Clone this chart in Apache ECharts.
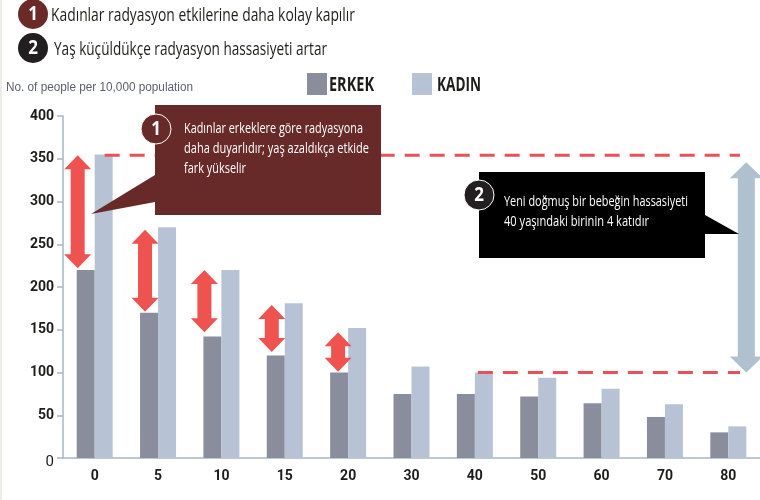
<!DOCTYPE html>
<html>
<head>
<meta charset="utf-8">
<style>
  html, body { margin: 0; padding: 0; background: #fff; }
  #chart { width: 760px; height: 500px; }
</style>
<script src="https://cdn.jsdelivr.net/npm/echarts@6/dist/echarts.min.js"></script>
</head>
<body>
<div id="chart"></div>
<script>
const ages = ['0', '5', '10', '15', '20', '30', '40', '50', '60', '70', '80'];
const erkek = [220, 170, 142, 120, 100, 75, 75, 72, 64, 48, 30];
const kadin = [355, 270, 220, 181, 152, 107, 100, 94, 81, 63, 37];
const yTicks = [0, 50, 100, 150, 200, 250, 300, 350, 400];

// red arrows: gap between the two sexes
const gapAges = ['0', '5', '10', '15', '20'];
const gapTop = [354, 267, 220, 179, 147];
const gapBottom = [222, 171, 147, 124, 101];
// grey arrow and dashed lines: newborn vs age 40
const rangeAge = '80';
const rangeTop = 346;
const rangeBottom = 100;
const dashAges = ['0', '40'];
const dashValues = [354, 100];

const headlines = ['Kadınlar radyasyon etkilerine daha kolay kapılır', 'Yaş küçüldükçe radyasyon hassasiyeti artar'];
const note1 = ['Kadınlar erkeklere göre radyasyona', 'daha duyarlıdır; yaş azaldıkça etkide', 'fark yükselir'];
const note2 = ['Yeni doğmuş bir bebeğin hassasiyeti', '40 yaşındaki birinin 4 katıdır'];

const SANS = '"Open Sans", "Noto Sans", sans-serif';
const MAROON = '#682a28';
const BLACK = '#000000';
const RED = '#ef5350';
const DASH = '#e8505a';
const STEEL = '#afc0ce';
const AXIS = '#a6b6c4';
const INK = '#1d1d1b';

// horizontal nudge of each red arrow from its category centre
const gapShift = [-17, -13, -17, -13, -10];

function arrowPoints(x, y0, y1, shaft, head, headLen) {
    return [
        [x, y0], [x + head / 2, y0 + headLen], [x + shaft / 2, y0 + headLen],
        [x + shaft / 2, y1 - headLen], [x + head / 2, y1 - headLen], [x, y1],
        [x - head / 2, y1 - headLen], [x - shaft / 2, y1 - headLen], [x - shaft / 2, y0 + headLen],
        [x - head / 2, y0 + headLen]
    ];
}

function renderArrow(color, shaft, head, headLen) {
    return function (params, api) {
        const top = api.coord([api.value(0), api.value(1)]);
        const bottom = api.coord([api.value(0), api.value(2)]);
        return {
            type: 'polygon',
            shape: { points: arrowPoints(top[0] + api.value(3), top[1], bottom[1], shaft, head, headLen) },
            style: { fill: color }
        };
    };
}

function renderDash(params, api) {
    const p = api.coord([api.value(0), api.value(1)]);
    return {
        type: 'line',
        shape: { x1: p[0] + api.value(2), y1: p[1], x2: 740, y2: p[1] },
        style: { stroke: DASH, lineWidth: 3, lineDash: [15, 10], fill: null }
    };
}

function badge(cx, cy, label, fill, ring) {
    return [
        { type: 'circle', shape: { cx: cx, cy: cy, r: 15 }, z: 20,
          style: { fill: fill, stroke: ring ? '#fff' : null, lineWidth: 1 } },
        { type: 'text', x: cx, y: cy, z: 21, scaleX: 0.85,
          style: { text: label, fill: '#fff', font: 'bold 20px ' + SANS, align: 'center', verticalAlign: 'middle' } }
    ];
}

// the original face is condensed and none is installed, so squeeze text to its measured width
const measure = document.createElement('canvas').getContext('2d');
function fitted(text, x, y, width, font, color) {
    measure.font = font;
    return { type: 'text', x: x, y: y, z: 21, scaleX: width / measure.measureText(text).width,
             style: { text: text, fill: color, font: font, verticalAlign: 'middle' } };
}

const graphics = [].concat(
    [{ type: 'rect', shape: { x: 0, y: 0, width: 2, height: 500 }, style: { fill: '#efebe7' } }],
    badge(33, 14, '1', '#6b2a28', false),
    badge(33, 48, '2', '#231f20', false),
    fitted(headlines[0], 51, 16, 304, '19px ' + SANS, INK),
    fitted(headlines[1], 54, 50, 273, '19px ' + SANS, INK),
    [{ type: 'text', x: 6, y: 88, scaleX: 0.98, style: { text: 'No. of people per 10,000 population', fill: '#5b6070', font: '12px "Liberation Sans", sans-serif', verticalAlign: 'middle' } }],
    fitted('ERKEK', 329, 85, 45, 'bold 20px ' + SANS, INK),
    fitted('KADIN', 437, 85, 44, 'bold 20px ' + SANS, INK),
    // callout 1
    [{ type: 'polygon', z: 19, shape: { points: [[155, 175], [155, 202], [91, 214]] }, style: { fill: MAROON } },
     { type: 'rect', z: 19, shape: { x: 155, y: 105, width: 226, height: 110 }, style: { fill: MAROON } }],
    badge(156, 129, '1', MAROON, true),
    fitted(note1[0], 184, 129, 179, '14px ' + SANS, '#fff'),
    fitted(note1[1], 184, 149, 185, '14px ' + SANS, '#fff'),
    fitted(note1[2], 184, 169, 62, '14px ' + SANS, '#fff'),
    // callout 2
    [{ type: 'polygon', z: 19, shape: { points: [[705, 215], [739, 234], [705, 234]] }, style: { fill: BLACK } },
     { type: 'rect', z: 19, shape: { x: 479, y: 172, width: 226, height: 86 }, style: { fill: BLACK } }],
    badge(479, 195, '2', '#231f20', true),
    fitted(note2[0], 504, 202, 184, '14px ' + SANS, '#fff'),
    fitted(note2[1], 504, 222, 145, '14px ' + SANS, '#fff')
);

const legendStyle = {
    top: 73, padding: 0, icon: 'rect', itemWidth: 20, itemHeight: 22, selectedMode: false,
    formatter: function () { return ''; }
};

const chart = echarts.init(document.getElementById('chart'), null, { renderer: 'canvas' });
chart.setOption({
    animation: false,
    backgroundColor: '#fff',
    grid: { left: 63, right: 0, top: 116, bottom: 42, containLabel: false },
    legend: [
        Object.assign({ left: 307, data: ['ERKEK'] }, legendStyle),
        Object.assign({ left: 412, data: ['KADIN'] }, legendStyle)
    ],
    xAxis: {
        type: 'category',
        data: ages,
        axisLine: { lineStyle: { color: AXIS, width: 1.5 } },
        axisTick: { alignWithLabel: false, length: 6, lineStyle: { color: AXIS, width: 1.5 } },
        axisLabel: { color: INK, fontFamily: 'Roboto', fontWeight: 'bold', fontSize: 14, margin: 11 }
    },
    yAxis: {
        type: 'value',
        min: 0,
        max: yTicks[yTicks.length - 1],
        interval: yTicks[1] - yTicks[0],
        splitLine: { show: false },
        axisLine: { show: true, lineStyle: { color: AXIS, width: 1.5 } },
        axisTick: { show: true, length: 6, lineStyle: { color: AXIS, width: 1.5 } },
        axisLabel: {
            color: INK, fontFamily: 'Roboto', fontWeight: 'bold', fontSize: 14, margin: 9,
            formatter: function (v) { return v === 0 ? '{zero|0}' : String(v); },
            rich: { zero: { fontFamily: 'Roboto', fontSize: 15, color: INK, fontWeight: 'normal', padding: [8, 0, 0, 0] } }
        }
    },
    series: [
        { name: 'ERKEK', type: 'bar', data: erkek, barWidth: 18, barGap: 0, itemStyle: { color: '#8a8e9c' } },
        { name: 'KADIN', type: 'bar', data: kadin, barWidth: 18, barGap: 0, itemStyle: { color: '#b7c3d4' } },
        {
            type: 'custom', z: 5, silent: true, clip: false,
            renderItem: renderDash,
            encode: { x: 0, y: 1 },
            data: dashAges.map(function (a, i) { return [ages.indexOf(a), dashValues[i], i === 0 ? 10 : 3]; })
        },
        {
            type: 'custom', z: 6, silent: true, clip: false,
            renderItem: renderArrow(RED, 14, 27, 14),
            encode: { x: 0, y: [1, 2] },
            data: gapAges.map(function (a, i) { return [ages.indexOf(a), gapTop[i], gapBottom[i], gapShift[i]]; })
        },
        {
            type: 'custom', z: 6, silent: true, clip: false,
            renderItem: renderArrow(STEEL, 17, 33, 16),
            encode: { x: 0, y: [1, 2] },
            data: [[ages.indexOf(rangeAge), rangeTop, rangeBottom, 18]]
        }
    ],
    graphic: graphics
});
</script>
</body>
</html>
